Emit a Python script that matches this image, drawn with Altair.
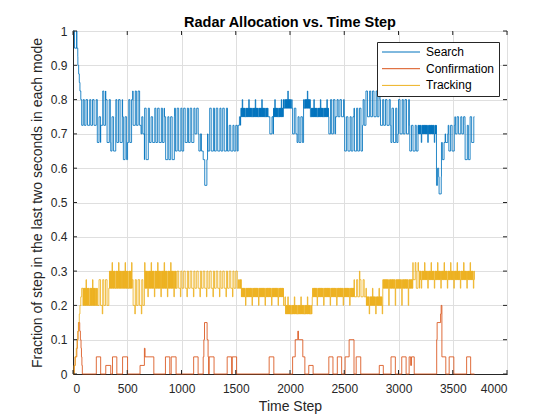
import altair as alt
import pandas as pd

alt.data_transformers.disable_max_rows()

# ---------------- data ----------------
# Search: piecewise segments (segment end step, low level, high level,
# upward spike level, downward spike level, dense alternation flag)
SEARCH_END = [10, 35, 45, 52, 58, 64, 72, 80, 224, 255, 302, 348, 395, 457, 503, 550,
              627, 658, 704, 750, 843, 936, 1029, 1122, 1160, 1200, 1240, 1260, 1430,
              1522, 1545, 1800, 1848, 1940, 2020, 2065, 2125, 2188, 2358, 2420, 2500,
              2590, 2668, 2700, 2830, 2930, 2995, 3100, 3180, 3350, 3370, 3396, 3430,
              3458, 3520, 3613, 3660, 3700]
SEARCH_LO = [1.0, 0.95, 0.925, 0.9, 0.875, 0.85, 0.825, 0.8, 0.725, 0.675, 0.725, 0.675,
             0.65, 0.675, 0.625, 0.675, 0.725, 0.7, 0.625, 0.675, 0.675, 0.625, 0.65, 0.675,
             0.7, 0.65, 0.55, 0.65, 0.65, 0.65, 0.725, 0.75, 0.7, 0.75, 0.775, 0.7, 0.675,
             0.775, 0.75, 0.7, 0.75, 0.65, 0.65, 0.725, 0.75, 0.725, 0.675, 0.7, 0.65, 0.7,
             0.55, 0.525, 0.625, 0.675, 0.65, 0.7, 0.625, 0.675]
SEARCH_HI = [1.0, 1.0, 0.95, 0.9, 0.875, 0.85, 0.825, 0.8, 0.8, 0.75, 0.825, 0.8,
             0.75, 0.8, 0.75, 0.8, 0.825, 0.75, 0.775, 0.75, 0.775, 0.75, 0.775, 0.775,
             0.775, 0.7, 0.625, 0.7, 0.775, 0.725, 0.75, 0.775, 0.75, 0.775, 0.8, 0.775, 0.75,
             0.8, 0.775, 0.8, 0.8, 0.75, 0.775, 0.8, 0.825, 0.8, 0.775, 0.8, 0.725, 0.725,
             0.6, 0.575, 0.675, 0.7, 0.725, 0.75, 0.725, 0.75]
SEARCH_UP = [1.0, 1.0, 0.95, 0.9, 0.875, 0.85, 0.825, 0.8, 0.8, 0.75, 0.825, 0.8,
             0.75, 0.8, 0.75, 0.8, 0.825, 0.75, 0.775, 0.75, 0.775, 0.75, 0.775, 0.775,
             0.775, 0.7, 0.625, 0.7, 0.775, 0.725, 0.75, 0.8, 0.75, 0.8, 0.825, 0.775, 0.75,
             0.825, 0.8, 0.8, 0.8, 0.75, 0.775, 0.8, 0.825, 0.8, 0.775, 0.8, 0.725, 0.725,
             0.6, 0.575, 0.675, 0.7, 0.725, 0.75, 0.725, 0.75]
SEARCH_DN = [1.0, 0.95, 0.925, 0.9, 0.875, 0.85, 0.825, 0.8, 0.725, 0.675, 0.725, 0.675,
             0.65, 0.675, 0.625, 0.675, 0.725, 0.7, 0.625, 0.675, 0.675, 0.625, 0.65, 0.675,
             0.7, 0.65, 0.55, 0.65, 0.65, 0.65, 0.725, 0.75, 0.7, 0.75, 0.775, 0.7, 0.675,
             0.775, 0.75, 0.7, 0.75, 0.65, 0.65, 0.725, 0.75, 0.725, 0.675, 0.7, 0.65, 0.675,
             0.55, 0.525, 0.625, 0.675, 0.65, 0.7, 0.625, 0.675]
SEARCH_DENSE = [0, 0, 0, 0, 0, 0, 0, 0, 0, 0, 0, 0, 0, 0, 0, 0,
                0, 0, 0, 0, 0, 0, 0, 0, 0, 0, 0, 0, 0,
                0, 0, 1, 0, 1, 1, 0, 0, 1, 1, 0, 0,
                0, 0, 0, 0, 0, 0, 0, 0, 1, 0, 0, 0,
                0, 0, 0, 0, 0]

TRACK_END = [10, 20, 30, 38, 45, 52, 58, 64, 72, 80, 92, 224, 330, 545, 658, 950, 1522,
             1552, 1940, 1957, 2205, 2590, 2700, 2855, 3133, 3160, 3195, 3700]
TRACK_LO = [0.0, 0.025, 0.05, 0.075, 0.1, 0.125, 0.15, 0.175, 0.2, 0.225, 0.25, 0.2, 0.2,
            0.25, 0.2, 0.25, 0.25, 0.25, 0.225, 0.2, 0.175, 0.225, 0.225, 0.2, 0.25, 0.275,
            0.25, 0.275]
TRACK_HI = [0.0, 0.025, 0.05, 0.075, 0.1, 0.125, 0.15, 0.175, 0.2, 0.225, 0.25, 0.25, 0.275,
            0.3, 0.275, 0.3, 0.3, 0.275, 0.25, 0.225, 0.2, 0.25, 0.275, 0.225, 0.275, 0.325,
            0.3, 0.3]
TRACK_UP = [0.0, 0.025, 0.05, 0.075, 0.1, 0.125, 0.15, 0.175, 0.2, 0.225, 0.25, 0.275, 0.275,
            0.325, 0.275, 0.325, 0.3, 0.275, 0.25, 0.225, 0.225, 0.25, 0.3, 0.25, 0.275, 0.35,
            0.325, 0.325]
TRACK_DN = [0.0, 0.025, 0.05, 0.075, 0.1, 0.125, 0.15, 0.175, 0.2, 0.225, 0.25, 0.2, 0.175,
            0.25, 0.175, 0.225, 0.225, 0.25, 0.2, 0.2, 0.175, 0.2, 0.225, 0.175, 0.2, 0.275,
            0.25, 0.25]
TRACK_DENSE = [0, 0, 0, 0, 0, 0, 0, 0, 0, 0, 0, 1, 0, 1, 0, 1, 0,
               1, 1, 0, 1, 1, 0, 1, 1, 0, 0, 1]

# Confirmation: step changes (time step, new value)
CONF_T = [0, 12, 20, 35, 40, 46, 50, 62, 68, 74, 78, 82, 86,
          215, 255, 302, 348, 364, 404, 457, 503, 618, 658, 664, 745,
          852, 892, 905, 950, 1112, 1153, 1200, 1206, 1212, 1236, 1245, 1250,
          1255, 1300, 1421, 1462, 1468, 1508, 1808, 1851,
          2024, 2048, 2072, 2078, 2118, 2137, 2173, 2213, 2358, 2396, 2436, 2476,
          2508, 2545, 2590, 2610, 2652, 2823, 2860, 2931, 2971, 3030, 3070,
          3098, 3112, 3120, 3145, 3352, 3356, 3388, 3393, 3400, 3436,
          3467, 3510, 3628, 3665, 3700]
CONF_V = [0.0, 0.025, 0.05, 0.075, 0.1, 0.125, 0.15, 0.125, 0.1, 0.075, 0.05, 0.025, 0.0,
          0.05, 0.0, 0.025, 0.0, 0.05, 0.0, 0.05, 0.0, 0.025, 0.075, 0.05, 0.0,
          0.05, 0.0, 0.05, 0.0, 0.05, 0.0, 0.05, 0.1, 0.15, 0.1, 0.05, 0.0,
          0.05, 0.0, 0.05, 0.0, 0.05, 0.0, 0.05, 0.0,
          0.05, 0.1, 0.125, 0.1, 0.05, 0.0, 0.025, 0.0, 0.05, 0.0, 0.05, 0.0,
          0.05, 0.1, 0.0, 0.05, 0.0, 0.025, 0.0, 0.05, 0.0, 0.05, 0.0,
          0.05, 0.025, 0.05, 0.0, 0.1, 0.15, 0.175, 0.2, 0.05, 0.0,
          0.05, 0.0, 0.05, 0.0, 0.0]

SERIES = ["Search", "Confirmation", "Tracking"]
COLORS = ["#0072BD", "#D95319", "#EDB120"]
X_TICKS = [0, 500, 1000, 1500, 2000, 2500, 3000, 3500, 4000]
Y_TICKS = [0, 0.1, 0.2, 0.3, 0.4, 0.5, 0.6, 0.7, 0.8, 0.9, 1.0]


def expand(ends, lo, hi, up, dn, dense):
    """Expand segment readings into a per-step sequence (step-wise alternation)."""
    vals = []
    start = 0
    for e, l, h, u, d, dz in zip(ends, lo, hi, up, dn, dense):
        for t in range(start, e):
            k, p = t % 30, t // 30
            if k < 4:
                v = u if p % 2 == 0 else d
            elif dz:
                v = h if (k // 3) % 2 == 0 else l
            else:
                v = h if k < 14 else l
            vals.append(v)
        start = e
    return vals


def change_points(vals, name):
    rows = []
    prev = None
    for t, v in enumerate(vals):
        if v != prev:
            rows.append({"t": t, "v": v, "series": name})
            prev = v
    rows.append({"t": len(vals), "v": vals[-1], "series": name})
    return rows


rows = []
rows += change_points(expand(SEARCH_END, SEARCH_LO, SEARCH_HI, SEARCH_UP, SEARCH_DN, SEARCH_DENSE), "Search")
rows += [{"t": t, "v": v, "series": "Confirmation"} for t, v in zip(CONF_T, CONF_V)]
rows += change_points(expand(TRACK_END, TRACK_LO, TRACK_HI, TRACK_UP, TRACK_DN, TRACK_DENSE), "Tracking")
df = pd.DataFrame(rows)

W, H = 434, 343
FONT = "Liberation Sans"
AX = "#262626"

color = alt.Color(
    "series:N",
    scale=alt.Scale(domain=SERIES, range=COLORS),
    legend=alt.Legend(
        orient="none", legendX=304, legendY=11, title=None,
        symbolType="M-1,0H6.6", symbolSize=100, symbolStrokeWidth=1,
        symbolFillColor="transparent",
        labelFontSize=12, labelFont=FONT, labelColor="#000000", labelOffset=33,
        strokeColor=AX, fillColor="white", padding=4, rowPadding=4.7,
    ),
)

xenc = alt.X(
    "t:Q",
    scale=alt.Scale(domain=[0, 4000], nice=False),
    axis=alt.Axis(values=X_TICKS, title="Time Step", format="d", tickSize=0,
                  labelPadding=9, titlePadding=5, labelFontSize=12, titleFontSize=14,
                  titleFontWeight="normal"),
)
yenc = alt.Y(
    "v:Q",
    scale=alt.Scale(domain=[0, 1], nice=False),
    axis=alt.Axis(values=Y_TICKS, title="Fraction of step in the last two seconds in each mode",
                  tickSize=0, labelPadding=6, titlePadding=6, labelFontSize=12, titleFontSize=14,
                  titleFontWeight="normal",
                  labelExpr="datum.value == 0 ? '0' : datum.value == 1 ? '1' : format(datum.value, '.1f')"),
)

layers = []
for s in SERIES:
    layers.append(
        alt.Chart(df)
        .transform_filter(alt.datum.series == s)
        .mark_line(interpolate="step-after", strokeWidth=0.85)
        .encode(x=xenc, y=yenc, color=color)
    )

xt = pd.DataFrame({"t": X_TICKS})
yt = pd.DataFrame({"v": Y_TICKS})
tick_style = dict(color=AX, strokeWidth=1)
layers += [
    alt.Chart(xt).mark_rule(**tick_style).encode(x=xenc, y=alt.value(H), y2=alt.value(H - 4)),
    alt.Chart(xt).mark_rule(**tick_style).encode(x=xenc, y=alt.value(0), y2=alt.value(4)),
    alt.Chart(yt).mark_rule(**tick_style).encode(y=yenc, x=alt.value(0), x2=alt.value(4)),
    alt.Chart(yt).mark_rule(**tick_style).encode(y=yenc, x=alt.value(W), x2=alt.value(W - 4)),
]

chart = (
    alt.layer(*layers)
    .properties(
        width=W, height=H,
        background="white",
        title=alt.Title("Radar Allocation vs. Time Step", fontSize=14.5, fontWeight="bold",
                        font=FONT, color="#000000", offset=4, dy=9, anchor="middle"),
        autosize=alt.AutoSizeParams(type="none"),
        padding={"left": 65, "top": 23, "right": 30, "bottom": 40},
    )
    .configure_view(stroke=AX, strokeWidth=1)
    .configure_axis(
        labelFont=FONT, titleFont=FONT, labelColor=AX, titleColor=AX,
        titleFontWeight="normal", domainColor=AX, gridColor="#dfdfdf", gridWidth=1,
    )
)

chart.save("out.html", embed_options={"renderer": "svg", "actions": False})
